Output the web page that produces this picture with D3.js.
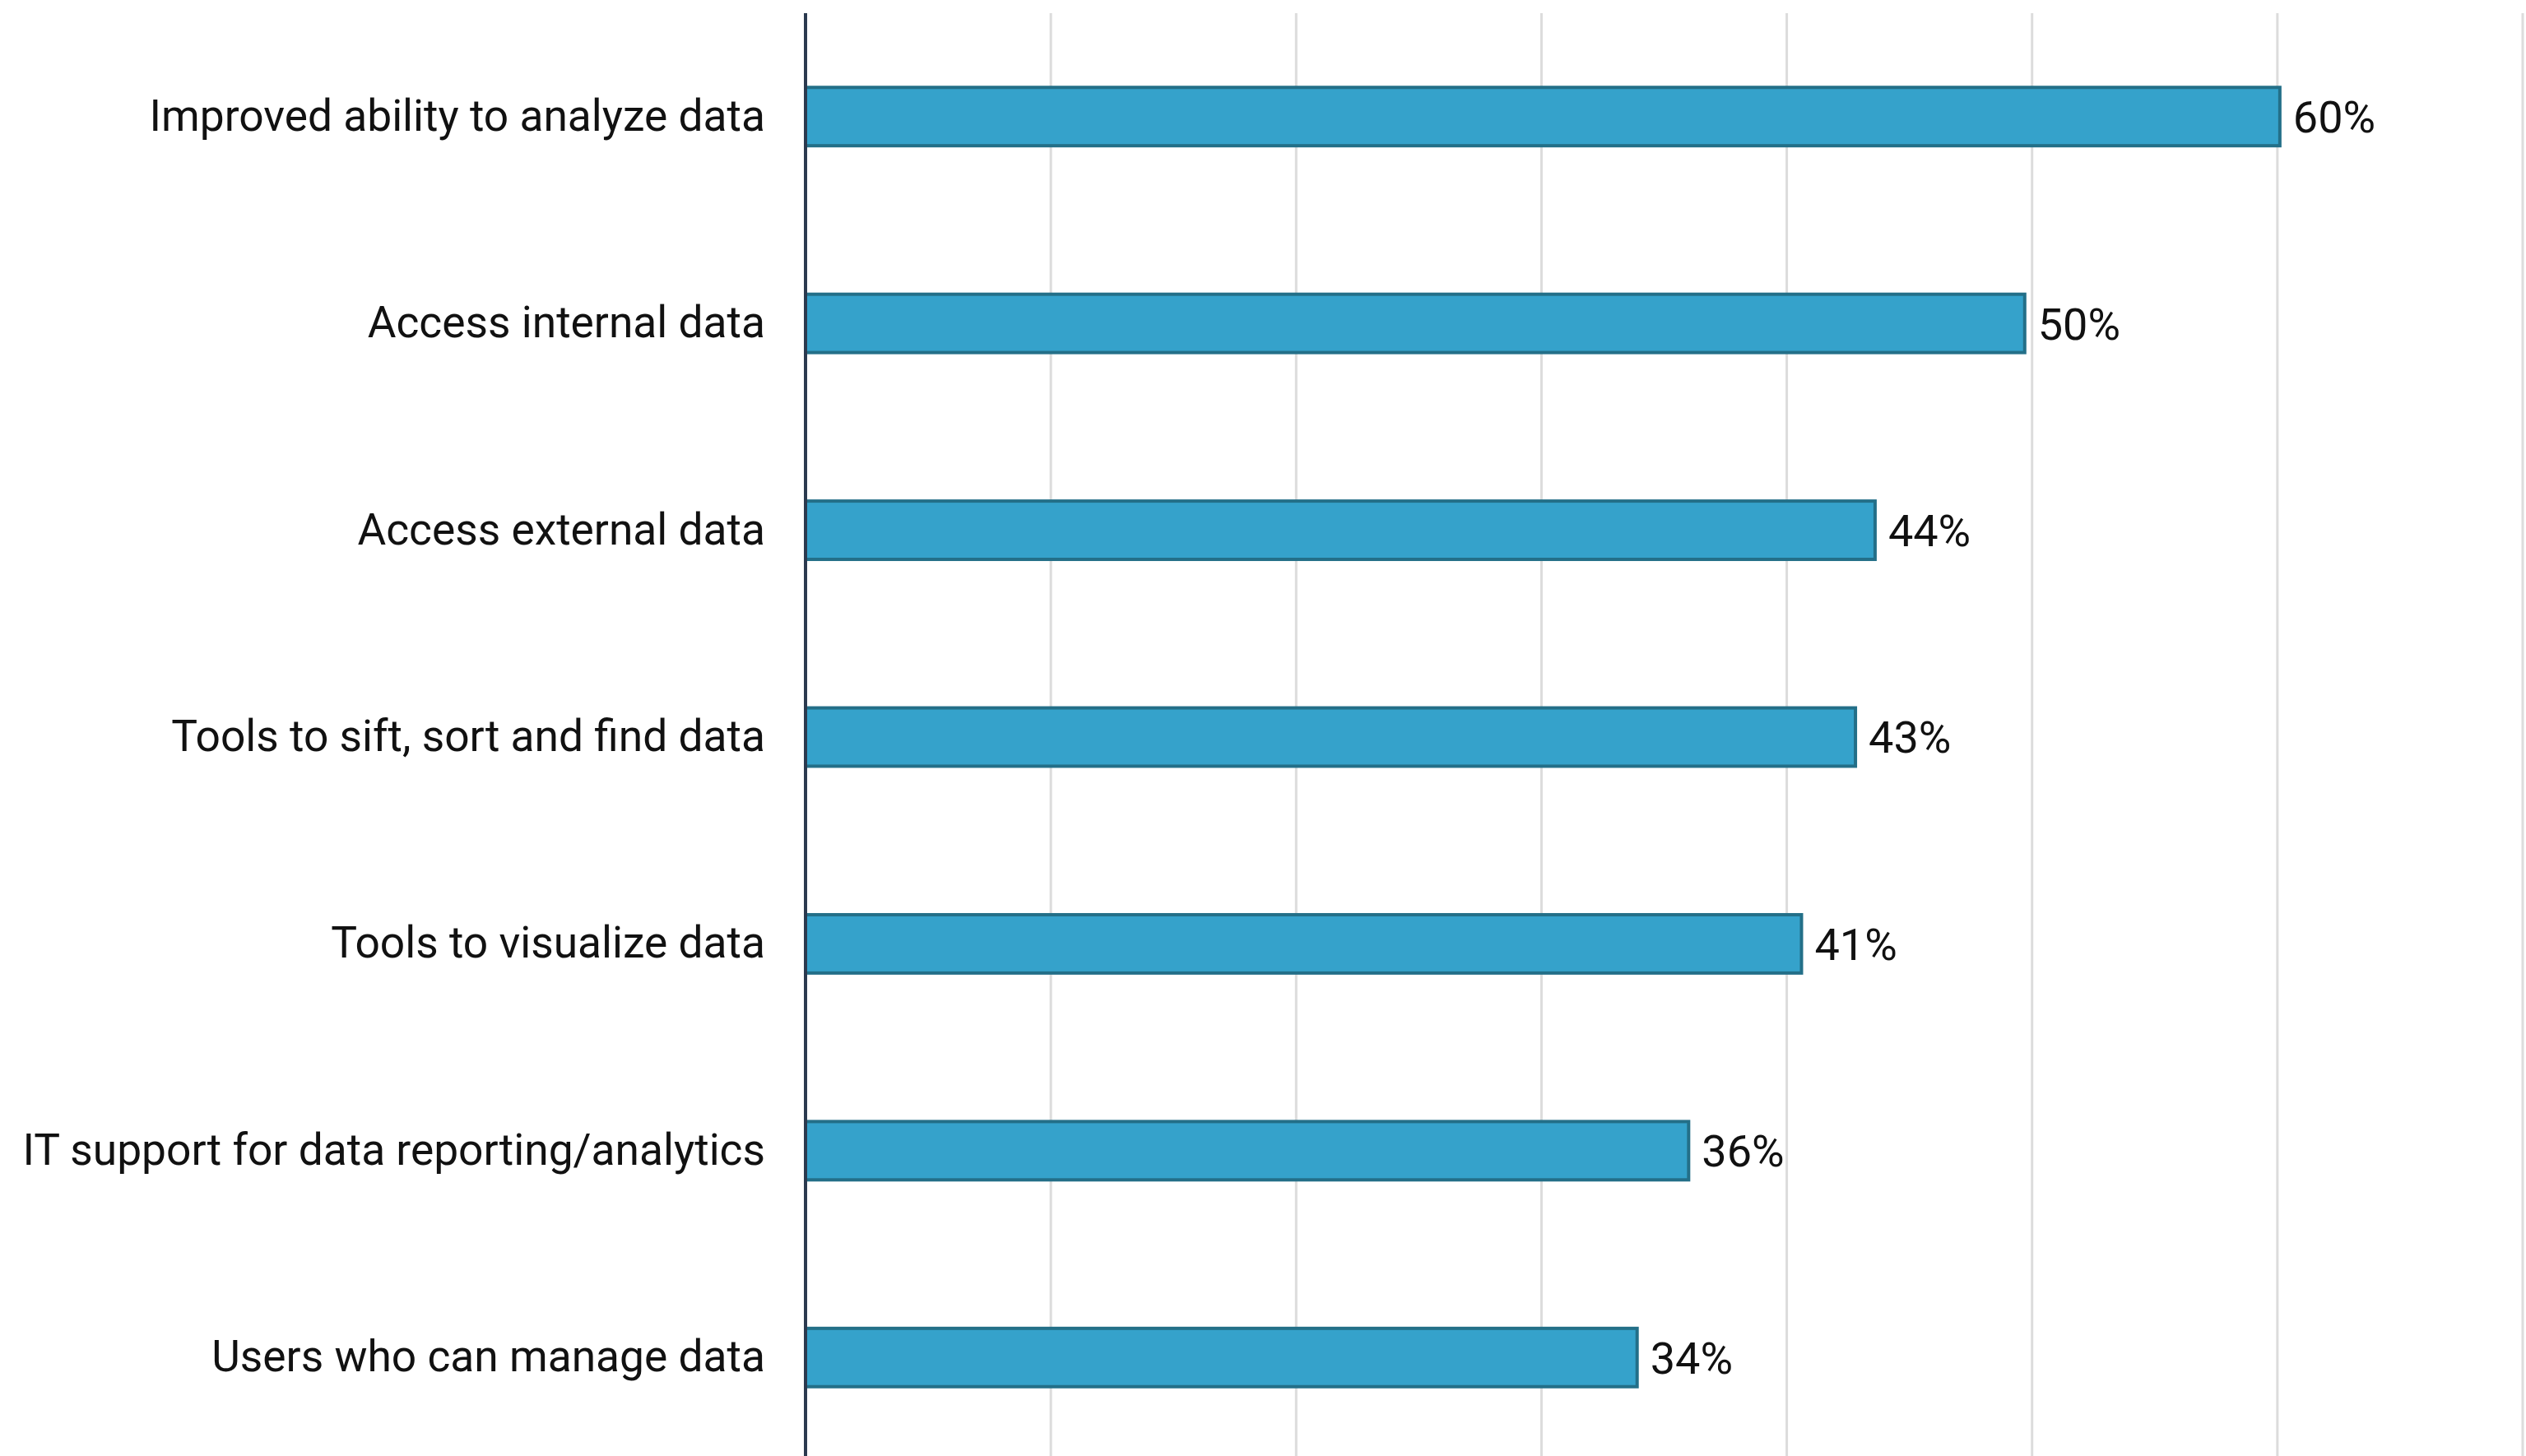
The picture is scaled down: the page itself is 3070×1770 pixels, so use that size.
<!DOCTYPE html>
<html>
<head>
<meta charset="utf-8">
<script src="https://cdn.jsdelivr.net/npm/d3@7"></script>
<style>
  html, body { margin: 0; padding: 0; background: #fff; }
  svg { display: block; font-family: Roboto, "Noto Sans", sans-serif; }
</style>
</head>
<body>
<svg id="chart" width="3070" height="1770"></svg>
<script>
// Chart data
var categories = [
  "Improved ability to analyze data",
  "Access internal data",
  "Access external data",
  "Tools to sift, sort and find data",
  "Tools to visualize data",
  "IT support for data reporting/analytics",
  "Users who can manage data"
],
values = [60.1, 49.7, 43.6, 42.8, 40.6, 36.0, 33.9], // percent
gridTicks = [0, 10, 20, 30, 40, 50, 60, 70];

var width = 3070, height = 1770,
margin = {top: 16, right: 4, bottom: 0, left: 979};

var svg = d3.select("#chart");

var x = d3.scaleLinear().domain([0, 70]).range([margin.left, width - margin.right]);
var y = d3.scaleBand().domain(categories).range([margin.top, 1776]).paddingInner(0.718).paddingOuter(0.359);

// Vertical gridlines
svg.append("g")
  .selectAll("line")
  .data(gridTicks.slice(1))
  .join("line")
  .attr("x1", d => x(d)).attr("x2", d => x(d))
  .attr("y1", margin.top).attr("y2", height)
  .attr("stroke", "#dcdcdc")
  .attr("stroke-width", 3);

// Bars
svg.append("g")
  .selectAll("rect")
  .data(values)
  .join("rect")
  .attr("x", x(0))
  .attr("y", (d, i) => y(categories[i]))
  .attr("width", d => x(d) - x(0))
  .attr("height", y.bandwidth())
  .attr("fill", "#35a2cb")
  .attr("stroke", "#236f88")
  .attr("stroke-width", 4);

// Value labels
svg.append("g")
  .selectAll("text")
  .data(values)
  .join("text")
  .attr("x", d => x(d) + 16)
  .attr("y", (d, i) => y(categories[i]) + y.bandwidth() / 2)
  .attr("dy", "0.36em")
  .attr("font-size", 54)
  .attr("fill", "#111")
  .text(d => Math.round(d) + "%");

// Category axis
var yAxis = svg.append("g")
  .attr("transform", "translate(" + x(0) + ",0)")
  .call(d3.axisLeft(y).tickSize(0).tickPadding(49));
yAxis.select(".domain").remove();
yAxis.selectAll("text")
  .attr("font-size", 53.3)
  .attr("font-family", "Roboto, sans-serif")
  .attr("fill", "#111");

svg.append("line")
  .attr("x1", x(0)).attr("x2", x(0))
  .attr("y1", margin.top).attr("y2", height)
  .attr("stroke", "#2b3a4f")
  .attr("stroke-width", 4);
</script>
</body>
</html>
